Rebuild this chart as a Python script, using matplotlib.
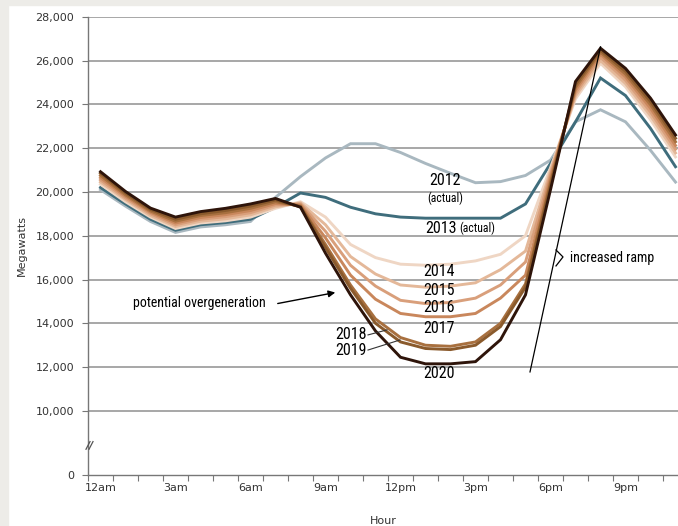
import matplotlib
matplotlib.use("Agg")
import matplotlib.pyplot as plt
from matplotlib.patches import Rectangle
import numpy as np

# hourly net load (MW), hour 0 = 12am
hours = list(range(24))
load_2012 = [20100, 19350, 18650, 18150, 18400, 18500, 18650, 19750, 20700, 21550, 22200, 22200,
             21800, 21300, 20850, 20420, 20470, 20750, 21450, 23200, 23750, 23200, 21900, 20450]
load_2013 = [20200, 19450, 18750, 18250, 18500, 18600, 18750, 19300, 19950, 19750, 19300, 19000,
             18850, 18800, 18800, 18800, 18800, 19450, 21300, 23200, 25200, 24400, 22900, 21150]
load_2014 = [20350, 19550, 18850, 18330, 18580, 18680, 18850, 19250, 19550, 18850, 17600, 17000,
             16700, 16650, 16700, 16850, 17150, 18000, 21100, 24250, 25870, 24800, 23300, 21600]
load_2015 = [20450, 19650, 18920, 18420, 18660, 18770, 18950, 19320, 19500, 18500, 17050, 16250,
             15750, 15650, 15700, 15850, 16450, 17300, 20950, 24380, 26000, 24950, 23480, 21780]
load_2016 = [20550, 19720, 19000, 18500, 18750, 18870, 19050, 19400, 19450, 18200, 16650, 15700,
             15050, 14900, 14950, 15150, 15750, 16800, 20800, 24510, 26150, 25100, 23650, 21950]
load_2017 = [20650, 19800, 19070, 18580, 18830, 18960, 19150, 19470, 19400, 17900, 16200, 15100,
             14450, 14300, 14300, 14450, 15150, 16200, 20650, 24640, 26280, 25250, 23820, 22120]
load_2018 = [20750, 19870, 19130, 18660, 18920, 19050, 19250, 19550, 19350, 17600, 15750, 14200,
             13350, 13000, 12950, 13150, 14000, 15800, 20450, 24770, 26380, 25380, 23980, 22290]
load_2019 = [20850, 19950, 19200, 18750, 19000, 19150, 19350, 19630, 19320, 17450, 15600, 14000,
             13150, 12850, 12800, 13000, 13850, 15650, 20300, 24900, 26470, 25510, 24130, 22450]
load_2020 = [20920, 20020, 19260, 18850, 19100, 19250, 19450, 19700, 19300, 17200, 15300, 13650,
             12450, 12150, 12150, 12250, 13250, 15300, 20100, 25040, 26560, 25640, 24280, 22600]

series = [load_2012, load_2013, load_2014, load_2015, load_2016,
          load_2017, load_2018, load_2019, load_2020]
colors = ["#a9b8c0", "#3f6d7c", "#efd6c4", "#e4b899", "#d99f7b",
          "#c9875c", "#a8703f", "#8a5a2c", "#2e140a"]

tick_labels = ["12am", "3am", "6am", "9am", "12pm", "3pm", "6pm", "9pm"]
y_ticks = [10000, 12000, 14000, 16000, 18000, 20000, 22000, 24000, 26000, 28000]
y_break = 7074  # where the "0" sits on the broken axis

NARROW = ["Roboto Condensed", "Roboto", "DejaVu Sans"]

fig = plt.figure(figsize=(6.78, 5.26), dpi=100)
fig.patches.append(Rectangle((0, 0), 8 / 678, 1, transform=fig.transFigure,
                             color="#edece8", zorder=0))
fig.patches.append(Rectangle((0, 1 - 5 / 526), 1, 5 / 526, transform=fig.transFigure,
                             color="#edece8", zorder=0))

ax = fig.add_axes([88 / 678, 51 / 526, 590 / 678, (475 - 16.7) / 526])
x = np.array(hours) + 0.5
for vals, c in zip(series, colors):
    ax.plot(x, vals, color=c, lw=2.1, solid_joinstyle="miter", zorder=3)

ax.set_xlim(0, 23.6)
ax.set_ylim(y_break, 28000)

ax.set_yticks([y_break] + y_ticks)
ax.set_yticklabels(["0"] + [f"{v:,}" for v in y_ticks], fontsize=8, color="#333333")
for v in y_ticks:
    ax.axhline(v, color="#8f8f8f", lw=1.1, zorder=1)

ax.set_xticks(range(0, 24))
ax.set_xticklabels([])
ax.set_xticks([h + 0.5 for h in range(0, 24, 3)], minor=True)
ax.set_xticklabels(tick_labels, minor=True, fontsize=8, color="#333333")
ax.tick_params(axis="x", which="major", length=4, color="#777777", direction="out")
ax.tick_params(axis="x", which="minor", length=0, pad=6)
ax.tick_params(axis="y", length=4, color="#777777", pad=6)

for s in ["top", "right"]:
    ax.spines[s].set_visible(False)
for s in ["left", "bottom"]:
    ax.spines[s].set_color("#777777")
    ax.spines[s].set_linewidth(1.0)

# axis break marks
for dx in (0.0, 0.12):
    ax.plot([-0.08 + dx, 0.08 + dx], [8250, 8600], color="#555555", lw=0.9,
            clip_on=False, zorder=5)

ax.set_ylabel("Megawatts", fontsize=8, color="#333333", labelpad=6)
ax.set_xlabel("Hour", fontsize=8, color="#333333", labelpad=16)

# year labels
ax.text(14.3, 20500, "2012", fontsize=11.5, family=NARROW, ha="center", va="center")
ax.text(14.3, 19720, "(actual)", fontsize=8.5, family=NARROW, ha="center", va="center")
ax.text(13.48, 18350, "2013", fontsize=11.5, family=NARROW, ha="left", va="center")
ax.text(14.85, 18350, "(actual)", fontsize=8.5, family=NARROW, ha="left", va="center")
for yr, yv in [("2014", 16370), ("2015", 15520), ("2016", 14730), ("2017", 13770), ("2020", 11720)]:
    ax.text(14.05, yv, yr, fontsize=11.5, family=NARROW, ha="center", va="center")

ax.text(11.15, 13470, "2018", fontsize=11.5, family=NARROW, ha="right", va="center")
ax.text(11.15, 12780, "2019", fontsize=11.5, family=NARROW, ha="right", va="center")
ax.plot([11.2, 11.96], [13470, 13700], color="#333333", lw=0.8, zorder=4)
ax.plot([11.2, 12.48], [12780, 13240], color="#333333", lw=0.8, zorder=4)

ax.text(1.8, 14930, "potential overgeneration", fontsize=10, family=NARROW,
        ha="left", va="center")
ax.annotate("", xy=(10.0, 15430), xytext=(7.48, 14880),
            arrowprops=dict(arrowstyle="-|>", color="black", lw=1.0, mutation_scale=10))

# increased ramp
ax.plot([17.68, 20.5], [11780, 26620], color="black", lw=0.9, zorder=4)
ax.plot([18.72, 19.0, 18.72], [17350, 17030, 16620], color="black", lw=0.9, zorder=4)
ax.text(19.28, 16985, "increased ramp", fontsize=10, family=NARROW, ha="left", va="center")

fig.savefig("out.png", dpi=100)
